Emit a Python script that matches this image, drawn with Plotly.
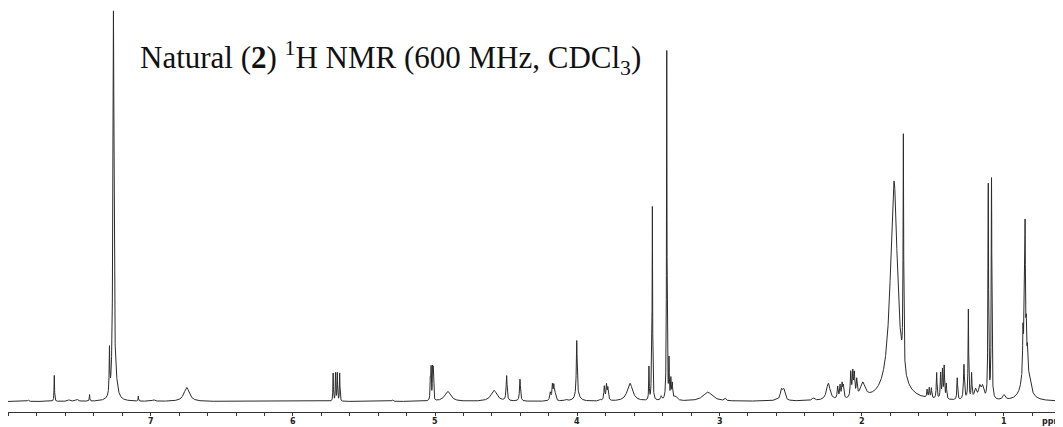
import numpy as np
import plotly.graph_objects as go

# Peak list: position (ppm), height (baseline = 0), line width (ppm)
peak_ppm = [7.862, 7.678, 7.575, 7.52, 7.43, 7.29, 7.262, 7.245, 7.087, 6.98, 6.747,
            5.717, 5.700, 5.688, 5.671, 5.298,
            5.033, 5.028, 5.018, 5.013, 4.911, 4.586, 4.497, 4.403,
            4.19, 4.175, 4.165, 4.155, 4.08, 4.004, 4.0, 3.84,
            3.81, 3.795, 3.785, 3.63, 3.496, 3.478, 3.472, 3.41,
            3.371, 3.355, 3.342, 3.332, 3.31, 3.083, 2.96, 2.61,
            2.565, 2.548, 2.34, 2.235, 2.169, 2.152, 2.138, 2.129,
            2.077, 2.063, 2.052, 2.035, 1.993, 1.773, 1.707,
            1.54, 1.525, 1.51, 1.473, 1.445, 1.432, 1.42, 1.405,
            1.328, 1.281, 1.25, 1.227, 1.20, 1.17, 1.15,
            1.110, 1.087, 1.0, 0.866, 0.858, 0.851, 0.843, 0.835, 0.85, 0.82]
peak_height = [1.5, 26, 1.5, 2, 6.5, 45, 385, 12, 5, 1.5, 14,
               28, 28, 28, 28, 1.5,
               30, 30, 30, 30, 10, 11, 25, 22,
               8, 15, 14, 6, 1.5, 55, 6, 1.5,
               14, 15, 12, 18, 33, 40, 190, 4,
               350, 38, 20, 15, 4, 9, 2.5, 1,
               10, 10, 2.5, 17, 12, 13, 14, 12,
               25, 24, 22, 16, 15, 220, 230,
               8, 10, 10, 26, 25, 28, 32, 15,
               22, 35, 90, 25, 10, 12, 12,
               215, 220, 5, 40, 60, 130, 35, 20, 40, 8]
peak_width = [0.01, 0.004, 0.02, 0.02, 0.004, 0.005, 0.009, 0.03, 0.003, 0.02, 0.045,
              0.004, 0.004, 0.004, 0.004, 0.01,
              0.004, 0.004, 0.004, 0.004, 0.05, 0.05, 0.008, 0.008,
              0.01, 0.008, 0.008, 0.01, 0.02, 0.007, 0.04, 0.01,
              0.008, 0.008, 0.008, 0.045, 0.004, 0.004, 0.004, 0.01,
              0.004, 0.004, 0.006, 0.006, 0.03, 0.08, 0.01, 0.02,
              0.02, 0.02, 0.02, 0.03, 0.008, 0.008, 0.008, 0.008,
              0.008, 0.008, 0.008, 0.008, 0.04, 0.06, 0.005,
              0.006, 0.006, 0.006, 0.006, 0.006, 0.006, 0.006, 0.006,
              0.006, 0.008, 0.005, 0.006, 0.02, 0.02, 0.02,
              0.005, 0.005, 0.02, 0.005, 0.005, 0.005, 0.005, 0.005, 0.05, 0.02]

tick_vals = [1, 2, 3, 4, 5, 6, 7]
tick_text = ["1", "2", "3", "4", "5", "6", "7"]

ppm_range = [8.0035, 0.5844]

# continuous spectrum = sum of Lorentzian lines from the peak list
x = np.linspace(ppm_range[0], ppm_range[1], 16000)
y = np.zeros_like(x)
for p, h, w in zip(peak_ppm, peak_height, peak_width):
    y += h / (1.0 + ((x - p) / (w / 2.0)) ** 2)

# the page body has an 8 px margin, so the figure is 8 px smaller each way
W, H = 1055, 419
bottom = 15
plot_h = H - bottom

fig = go.Figure()
fig.add_trace(go.Scatter(x=x, y=y, mode="lines",
                         line=dict(color="#2b2b2b", width=1),
                         hoverinfo="skip", showlegend=False))

label_font = dict(size=8, color="#222", family="DejaVu Sans", weight="bold")
label_y = -9 / plot_h
annotations = [
    dict(text="Natural (<b>2</b>) <sup>1</sup>H NMR (600 MHz, CDCl<sub>3</sub>)",
         xref="paper", yref="paper", x=130 / W, y=1 - 50 / plot_h,
         xanchor="left", yanchor="middle", showarrow=False,
         font=dict(family="Liberation Serif", size=31, color="#111")),
    dict(text="ppm", xref="paper", yref="paper", x=1.0, y=label_y,
         xanchor="right", yanchor="middle", showarrow=False, font=label_font,
         borderpad=0),
]
for v, t in zip(tick_vals, tick_text):
    annotations.append(dict(text=t, xref="x", yref="paper", x=v, y=label_y,
                            xanchor="center", yanchor="middle", showarrow=False,
                            font=label_font, borderpad=0))

fig.update_layout(
    width=W, height=H,
    margin=dict(l=0, r=0, t=0, b=bottom),
    paper_bgcolor="white", plot_bgcolor="white",
    xaxis=dict(range=ppm_range, showgrid=False, zeroline=False,
               showline=True, linecolor="#333", linewidth=1,
               ticks="outside", ticklen=3, tickwidth=1, tickcolor="#333",
               tickvals=tick_vals, showticklabels=False,
               minor=dict(dtick=0.2, tick0=0, ticks="outside", ticklen=3,
                          tickwidth=1, tickcolor="#333")),
    yaxis=dict(visible=False, range=[-10.5, 393.5]),
    annotations=annotations,
)

fig.write_html("out.html")
